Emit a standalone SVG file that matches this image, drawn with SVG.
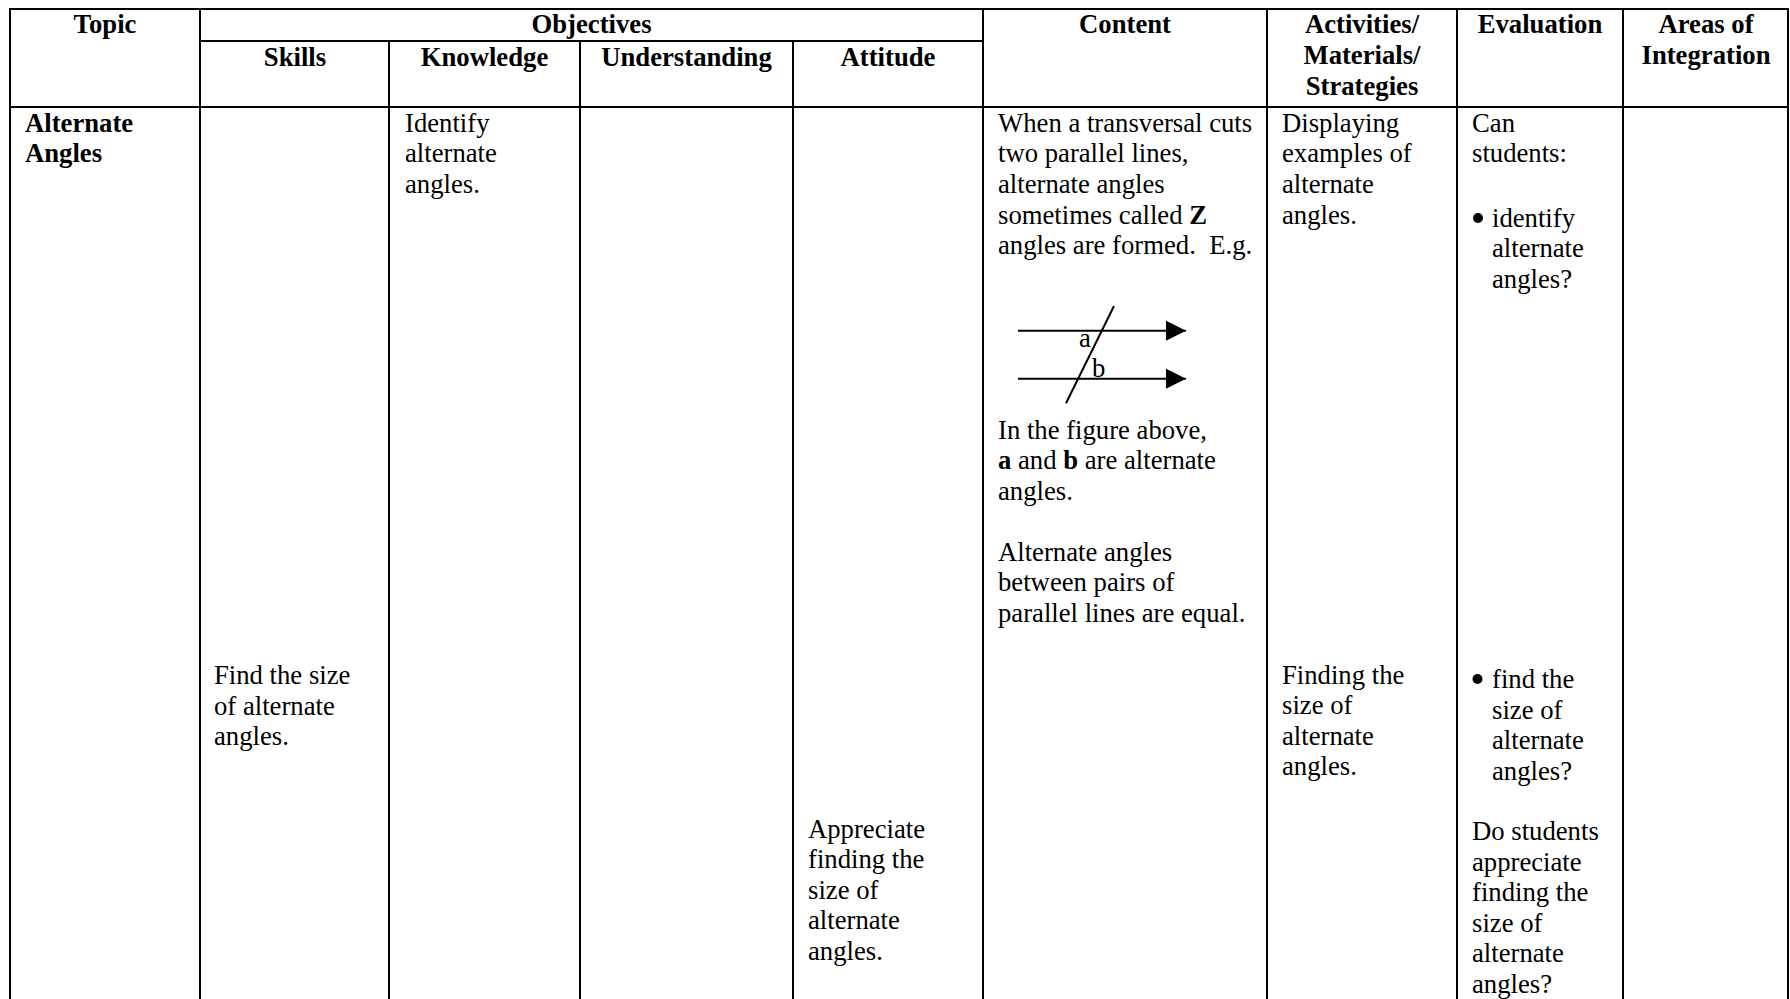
<svg xmlns="http://www.w3.org/2000/svg" width="1790" height="999" viewBox="0 0 1790 999">
<style>
text{font-family:"Liberation Serif","Times New Roman",serif;font-size:26.7px;fill:#000}
.b{font-weight:bold}
.h{font-weight:bold;text-anchor:middle}
.g{stroke:#000;stroke-width:2;fill:none}
.f{stroke:#000;stroke-width:2;fill:none}
</style>
<defs>
<marker id="arr" viewBox="0 0 20 20" refX="20" refY="10" markerWidth="20" markerHeight="20" markerUnits="userSpaceOnUse" orient="auto">
<path d="M0,0 L20,10 L0,20 Z" fill="#000"/>
</marker>
</defs>
<rect x="0" y="0" width="1790" height="999" fill="#fff"/>
<g id="grid" class="g">
<line x1="9" y1="9" x2="1789" y2="9"/>
<line x1="200" y1="41" x2="983" y2="41"/>
<line x1="9" y1="107" x2="1789" y2="107"/>
<line x1="10" y1="8" x2="10" y2="999"/>
<line x1="200" y1="8" x2="200" y2="999"/>
<line x1="389" y1="41" x2="389" y2="999"/>
<line x1="580" y1="41" x2="580" y2="999"/>
<line x1="793" y1="41" x2="793" y2="999"/>
<line x1="983" y1="8" x2="983" y2="999"/>
<line x1="1267" y1="8" x2="1267" y2="999"/>
<line x1="1457" y1="8" x2="1457" y2="999"/>
<line x1="1623" y1="8" x2="1623" y2="999"/>
<line x1="1788" y1="8" x2="1788" y2="999"/>
</g>
<g id="header">
<text class="h" x="105" y="33">Topic</text>
<text class="h" x="591.5" y="33">Objectives</text>
<text class="h" x="295" y="65.5">Skills</text>
<text class="h" x="484.5" y="65.5">Knowledge</text>
<text class="h" x="686.5" y="65.5">Understanding</text>
<text class="h" x="888" y="65.5">Attitude</text>
<text class="h" x="1125" y="33">Content</text>
<text class="h" x="1362"><tspan x="1362" y="33">Activities/</tspan><tspan x="1362" y="64">Materials/</tspan><tspan x="1362" y="95">Strategies</tspan></text>
<text class="h" x="1540" y="33">Evaluation</text>
<text class="h" x="1706"><tspan x="1706" y="33">Areas of</tspan><tspan x="1706" y="64">Integration</tspan></text>
</g>
<g id="topic">
<text class="b"><tspan x="25" y="131.5">Alternate</tspan><tspan x="25" y="162.2">Angles</tspan></text>
</g>
<g id="skills">
<text><tspan x="214" y="684">Find the size</tspan><tspan x="214" y="714.5">of alternate</tspan><tspan x="214" y="745">angles.</tspan></text>
</g>
<g id="knowledge">
<text><tspan x="405" y="131.5">Identify</tspan><tspan x="405" y="162.2">alternate</tspan><tspan x="405" y="192.9">angles.</tspan></text>
</g>
<g id="understanding"></g>
<g id="attitude">
<text><tspan x="808" y="837.5">Appreciate</tspan><tspan x="808" y="868">finding the</tspan><tspan x="808" y="898.5">size of</tspan><tspan x="808" y="929">alternate</tspan><tspan x="808" y="959.5">angles.</tspan></text>
</g>
<g id="content">
<text xml:space="preserve"><tspan x="998" y="131.5">When a transversal cuts</tspan><tspan x="998" y="162.2">two parallel lines,</tspan><tspan x="998" y="192.9">alternate angles</tspan><tspan x="998" y="223.6">sometimes called <tspan class="b">Z</tspan></tspan><tspan x="998" y="254.3">angles are formed.  E.g.</tspan></text>
<g id="figure" class="f">
<line x1="1018" y1="330.7" x2="1186" y2="330.7" marker-end="url(#arr)"/>
<line x1="1018" y1="378.7" x2="1186" y2="378.7" marker-end="url(#arr)"/>
<line x1="1114" y1="306" x2="1066" y2="403.3"/>
</g>
<text x="1079" y="346.5">a</text>
<text x="1092" y="376.5">b</text>
<text><tspan x="998" y="438.5">In the figure above,</tspan></text>
<text><tspan x="998" y="469"><tspan class="b">a</tspan> and <tspan class="b">b</tspan> are alternate</tspan></text>
<text><tspan x="998" y="499.5">angles.</tspan></text>
<text><tspan x="998" y="560.5">Alternate angles</tspan><tspan x="998" y="591">between pairs of</tspan><tspan x="998" y="621.5">parallel lines are equal.</tspan></text>
</g>
<g id="activities">
<text><tspan x="1282" y="131.5">Displaying</tspan><tspan x="1282" y="162.2">examples of</tspan><tspan x="1282" y="192.9">alternate</tspan><tspan x="1282" y="223.6">angles.</tspan></text>
<text><tspan x="1282" y="683.5">Finding the</tspan><tspan x="1282" y="714">size of</tspan><tspan x="1282" y="744.5">alternate</tspan><tspan x="1282" y="775">angles.</tspan></text>
</g>
<g id="evaluation">
<text><tspan x="1472" y="131.5">Can</tspan><tspan x="1472" y="162.2">students:</tspan></text>
<circle cx="1478" cy="218" r="5" fill="#000"/>
<text><tspan x="1492" y="226.8">identify</tspan><tspan x="1492" y="257.3">alternate</tspan><tspan x="1492" y="287.8">angles?</tspan></text>
<circle cx="1477.5" cy="679" r="5" fill="#000"/>
<text><tspan x="1492" y="688">find the</tspan><tspan x="1492" y="718.5">size of</tspan><tspan x="1492" y="749">alternate</tspan><tspan x="1492" y="779.5">angles?</tspan></text>
<text><tspan x="1472" y="840">Do students</tspan><tspan x="1472" y="870.5">appreciate</tspan><tspan x="1472" y="901">finding the</tspan><tspan x="1472" y="931.5">size of</tspan><tspan x="1472" y="962">alternate</tspan><tspan x="1472" y="992.5">angles?</tspan></text>
</g>
<g id="integration"></g>
</svg>
